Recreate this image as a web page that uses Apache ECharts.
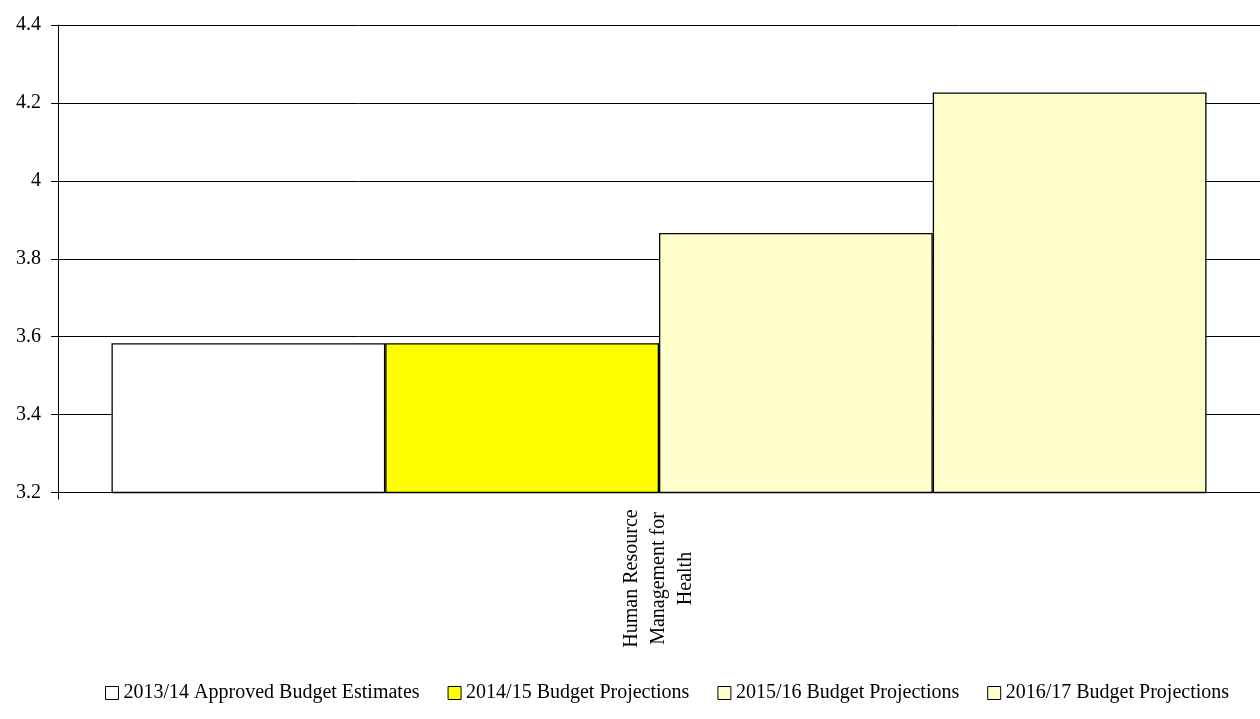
<!DOCTYPE html>
<html>
<head>
<meta charset="utf-8">
<script src="https://cdn.jsdelivr.net/npm/echarts@6/dist/echarts.min.js"></script>
<style>
html,body{margin:0;padding:0;background:#fff;}
#chart{width:1260px;height:719px;}
</style>
</head>
<body>
<div id="chart"></div>
<script>
const categories = ["Human Resource\nManagement for\nHealth"];
const seriesNames = ["2013/14 Approved Budget Estimates", "2014/15 Budget Projections", "2015/16 Budget Projections", "2016/17 Budget Projections"];
const values2013 = [3.583];
const values2014 = [3.583];
const values2015 = [3.866];
const values2016 = [4.227];
const seriesColors = ["#FFFFFF", "#FFFF00", "#FFFFCC", "#FFFFCC"];
const yMin = 3.2, yMax = 4.4, yInterval = 0.2;

const allValues = [values2013, values2014, values2015, values2016];
const font = "'Liberation Serif', 'Times New Roman', serif";

const chart = echarts.init(document.getElementById('chart'), null, {renderer: 'canvas'});
chart.setOption({
  animation: false,
  backgroundColor: '#fff',
  grid: {left: 58, right: -11, top: 25, bottom: 226.5, containLabel: false},
  xAxis: {
    type: 'category',
    data: categories,
    axisLine: {show: true, lineStyle: {color: '#000', width: 1}},
    axisTick: {show: true, length: 7, lineStyle: {color: '#000'}},
    axisLabel: {
      rotate: 90,
      align: 'center',
      verticalAlign: 'middle',
      margin: 86,
      color: '#000',
      fontFamily: font,
      fontSize: 20,
      lineHeight: 27
    },
    splitLine: {show: false}
  },
  yAxis: {
    type: 'value',
    min: yMin, max: yMax, interval: yInterval,
    axisLine: {show: true, lineStyle: {color: '#000', width: 1}},
    axisTick: {show: true, length: 7, lineStyle: {color: '#000'}},
    axisLabel: {color: '#000', fontFamily: font, fontSize: 20, margin: 17},
    splitLine: {show: true, lineStyle: {color: '#000', width: 1}}
  },
  legend: {
    left: 100,
    top: 678,
    itemWidth: 13,
    itemHeight: 13,
    itemGap: 28,
    icon: 'rect',
    textStyle: {color: '#000', fontFamily: font, fontSize: 20},
    itemStyle: {borderColor: '#000', borderWidth: 1},
    data: seriesNames
  },
  series: seriesNames.map((name, i) => ({
    name: name,
    type: 'bar',
    data: allValues[i],
    barGap: '0%',
    barCategoryGap: '8.9%',
    itemStyle: {color: seriesColors[i], borderColor: '#000', borderWidth: 1.3}
  }))
});
</script>
</body>
</html>
